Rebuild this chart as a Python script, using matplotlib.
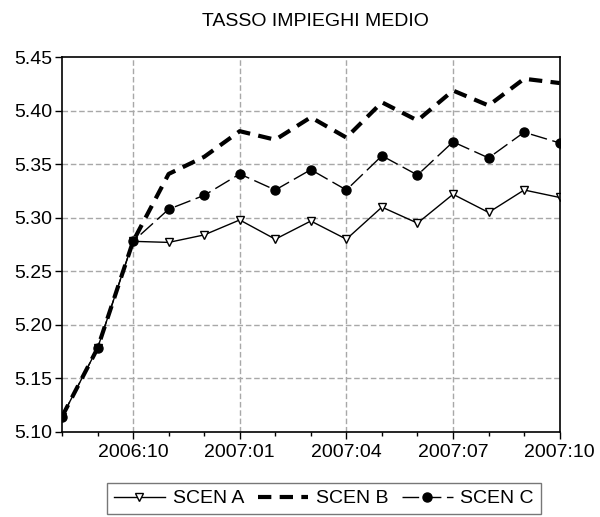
''' TASSO IMPIEGHI MEDIO - three scenarios, monthly '''

import matplotlib
matplotlib.use('Agg')
import matplotlib.pyplot as plt

months = ['2006:08', '2006:09', '2006:10', '2006:11', '2006:12',
          '2007:01', '2007:02', '2007:03', '2007:04', '2007:05',
          '2007:06', '2007:07', '2007:08', '2007:09', '2007:10']

scen_a = [5.114, 5.178, 5.278, 5.277, 5.284, 5.298, 5.280, 5.297,
          5.280, 5.310, 5.295, 5.322, 5.305, 5.326, 5.319]
scen_b = [5.114, 5.178, 5.278, 5.341, 5.357, 5.381, 5.373, 5.394,
          5.375, 5.408, 5.391, 5.419, 5.405, 5.430, 5.426]
scen_c = [5.114, 5.178, 5.278, 5.308, 5.321, 5.341, 5.326, 5.345,
          5.326, 5.358, 5.340, 5.371, 5.356, 5.380, 5.370]

major_labels = ['2006:10', '2007:01', '2007:04', '2007:07', '2007:10']
y_ticks = [5.10, 5.15, 5.20, 5.25, 5.30, 5.35, 5.40, 5.45]

plt.rcParams['font.family'] = ['Liberation Sans', 'DejaVu Sans']

fig = plt.figure(figsize=(6.0, 5.17), dpi=100)
ax = fig.add_axes([0.1033, 0.165, 0.8295, 0.724])

x = list(range(len(months)))

ax.plot(x, scen_a, color='black', lw=1.0, marker='v', ms=6,
        mfc='white', mec='black', mew=1.0, label='SCEN A')
ax.plot(x, scen_b, color='black', lw=3.0, dashes=(3.2, 2.0),
        label='SCEN B')
ax.plot(x, scen_c, color='black', lw=1.0, dashes=(12, 4), marker='o',
        ms=6.5, label='SCEN C')

ax.set_xlim(0, len(months) - 1)
ax.set_ylim(5.10, 5.45)

major_pos = [months.index(m) for m in major_labels]
ax.set_xticks(major_pos)
ax.set_xticklabels(major_labels)
ax.set_xticks(x, minor=True)
ax.set_yticks(y_ticks)
ax.set_yticklabels(['%.2f' % v for v in y_ticks])

ax.tick_params(axis='both', which='major', direction='out', length=5,
               width=1, labelsize=14, pad=2)
ax.tick_params(axis='x', which='minor', direction='out', length=3, width=1)
ax.tick_params(axis='x', which='major', pad=4)

# dashed grid, vertical lines only at the inner major months
for v in y_ticks[1:-1]:
    ax.axhline(v, color='#a8a8a8', lw=1.0, dashes=(4, 2), zorder=0)
for p in major_pos[:-1]:
    ax.axvline(p, color='#a8a8a8', lw=1.0, dashes=(4, 2), zorder=0)

for s in ax.spines.values():
    s.set_linewidth(1.2)
    s.set_color('black')

fig.text(0.525, 1 - 21 / 517, 'TASSO IMPIEGHI MEDIO', ha='center',
         va='center', fontsize=14)

leg = fig.legend(loc='upper center', bbox_to_anchor=(0.54, 1 - 483 / 517),
                 ncol=3, fontsize=14, frameon=True, fancybox=False,
                 edgecolor='#555555', handlelength=2.6, handletextpad=0.4,
                 columnspacing=0.7, borderpad=0.35, borderaxespad=0)
leg.get_frame().set_linewidth(1.0)

fig.savefig('out.png', dpi=100)
